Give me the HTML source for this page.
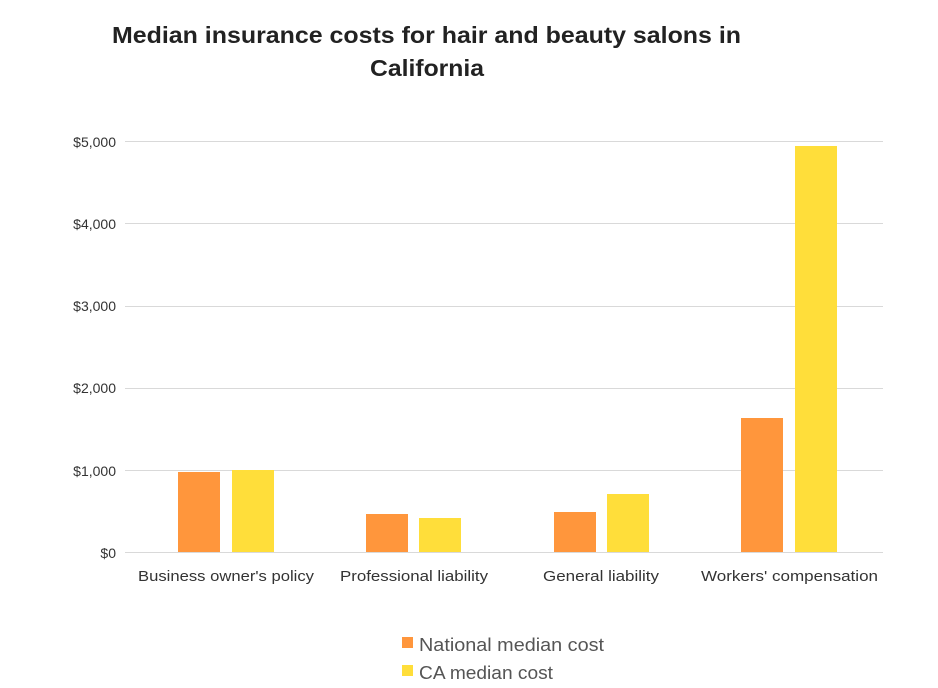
<!DOCTYPE html>
<html><head><style>body{margin:0;background:#fff}svg{display:block}</style></head>
<body>
<svg width="938" height="688" xmlns="http://www.w3.org/2000/svg" font-family="Liberation Sans, sans-serif">
<rect width="938" height="688" fill="#fff"/>
<text x="112" y="43" textLength="629" lengthAdjust="spacingAndGlyphs" font-size="23" font-weight="bold" fill="#222">Median insurance costs for hair and beauty salons in</text>
<text x="370" y="76" textLength="114" lengthAdjust="spacingAndGlyphs" font-size="23" font-weight="bold" fill="#222">California</text>
<g stroke="#d9d9d9" stroke-width="1">
<line x1="125" x2="883" y1="141.5" y2="141.5"/>
<line x1="125" x2="883" y1="223.5" y2="223.5"/>
<line x1="125" x2="883" y1="306.5" y2="306.5"/>
<line x1="125" x2="883" y1="388.5" y2="388.5"/>
<line x1="125" x2="883" y1="470.5" y2="470.5"/>
<line x1="125" x2="883" y1="552.5" y2="552.5"/>
</g>
<g font-size="14" fill="#333" text-anchor="end">
<text x="116" y="147">$5,000</text>
<text x="116" y="229">$4,000</text>
<text x="116" y="311">$3,000</text>
<text x="116" y="393">$2,000</text>
<text x="116" y="476">$1,000</text>
<text x="116" y="558">$0</text>
</g>
<g fill="#FF963C">
<rect x="178" y="472" width="42" height="80"/>
<rect x="366" y="514" width="42" height="38"/>
<rect x="554" y="512" width="42" height="40"/>
<rect x="741" y="418" width="42" height="134"/>
</g>
<g fill="#FFDE3A">
<rect x="232" y="470" width="42" height="82"/>
<rect x="419" y="518" width="42" height="34"/>
<rect x="607" y="494" width="42" height="58"/>
<rect x="795" y="146" width="42" height="406"/>
</g>
<g font-size="15" fill="#333">
<text x="138" y="581" textLength="176" lengthAdjust="spacingAndGlyphs">Business owner's policy</text>
<text x="340" y="581" textLength="148" lengthAdjust="spacingAndGlyphs">Professional liability</text>
<text x="543" y="581" textLength="116" lengthAdjust="spacingAndGlyphs">General liability</text>
<text x="701" y="581" textLength="177" lengthAdjust="spacingAndGlyphs">Workers' compensation</text>
</g>
<rect x="402" y="637" width="11" height="11" fill="#FF963C"/>
<rect x="402" y="665" width="11" height="11" fill="#FFDE3A"/>
<g font-size="18" fill="#555">
<text x="419" y="651" textLength="185" lengthAdjust="spacingAndGlyphs">National median cost</text>
<text x="419" y="679" textLength="134" lengthAdjust="spacingAndGlyphs">CA median cost</text>
</g>
</svg>
</body></html>
